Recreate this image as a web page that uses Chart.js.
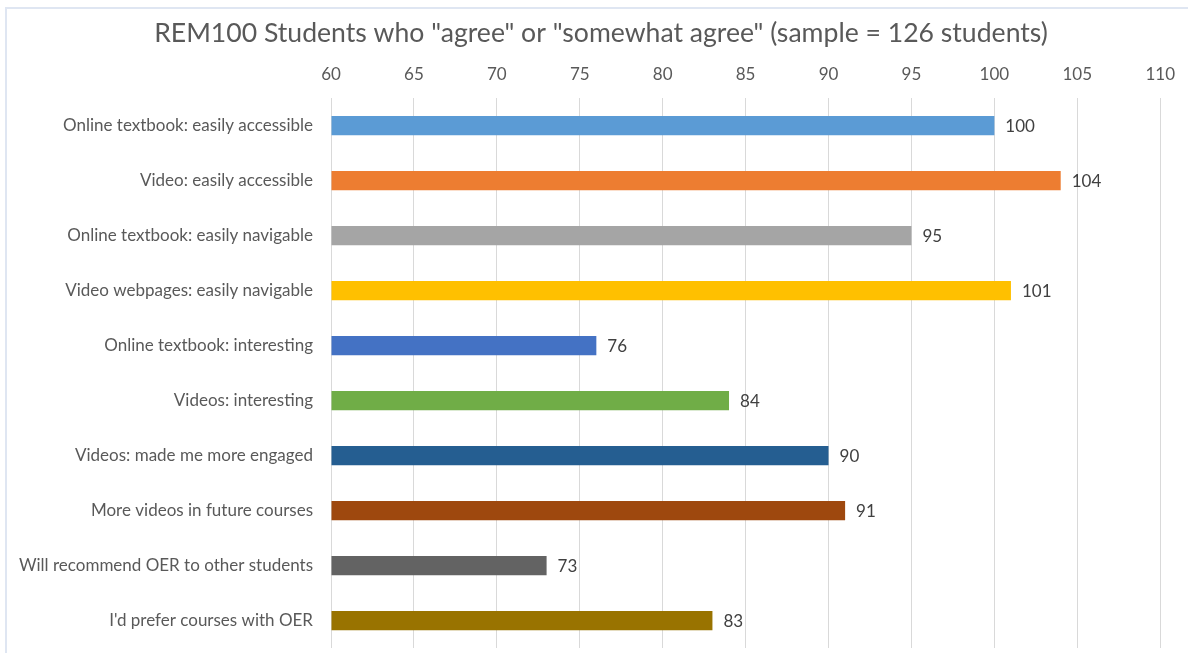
<!DOCTYPE html>
<html>
<head>
<meta charset="utf-8">
<script src="https://cdn.jsdelivr.net/npm/chart.js@4.4.1/dist/chart.umd.min.js"></script>
<style>
    html, body { margin: 0; padding: 0; background: #fff; }
    #wrap { position: relative; width: 1188px; height: 653px; overflow: hidden; }
    #frame {
        position: absolute; left: 5px; top: 7px; right: -2px; bottom: -2px;
        border-top: 2px solid #dfe6f2; border-left: 2px solid #dfe6f2;
    }
    canvas { position: absolute; left: 0; top: 0; }
</style>
</head>
<body>
<div id="wrap">
    <div id="frame"></div>
    <canvas id="chart" width="1188" height="653"></canvas>
</div>
<script>
    const chartTitle = 'REM100 Students who "agree" or "somewhat agree" (sample = 126 students)';

    const categories = [
        'Online textbook: easily accessible',
        'Video: easily accessible',
        'Online textbook: easily navigable',
        'Video webpages: easily navigable',
        'Online textbook: interesting',
        'Videos: interesting',
        'Videos: made me more engaged',
        'More videos in future courses',
        'Will recommend OER to other students',
        "I'd prefer courses with OER"
    ];
    const studentCounts = [100, 104, 95, 101, 76, 84, 90, 91, 73, 83];
    const barColors = ['#5b9bd5', '#ed7d31', '#a5a5a5', '#ffc000', '#4472c4',
                       '#70ad47', '#255e91', '#9e480e', '#636363', '#997300'];

    const axisMin = 60;
    const axisMax = 110;
    const axisStep = 5;

    const fontFamily = 'Lato, "Open Sans", sans-serif';

    // title is centred on the whole frame, not on the chart box, so it is drawn here
    const frameTitle = {
        id: 'frameTitle',
        afterDraw(chart) {
            const ctx = chart.ctx;
            ctx.save();
            ctx.font = '26.6px ' + fontFamily;
            ctx.fillStyle = '#595959';
            ctx.textAlign = 'center';
            ctx.textBaseline = 'middle';
            ctx.fillText(chartTitle, 601, 33);
            ctx.restore();
        }
    };

    // draws the value next to the end of each bar
    const valueLabels = {
        id: 'valueLabels',
        afterDatasetsDraw(chart) {
            const ctx = chart.ctx;
            const meta = chart.getDatasetMeta(0);
            ctx.save();
            ctx.font = '17px ' + fontFamily;
            ctx.fillStyle = '#404040';
            ctx.textAlign = 'left';
            ctx.textBaseline = 'middle';
            meta.data.forEach((bar, i) => {
                ctx.fillText(studentCounts[i], bar.x + 11, bar.y + 1);
            });
            ctx.restore();
        }
    };

    const ctx = document.getElementById('chart').getContext('2d');
    new Chart(ctx, {
        type: 'bar',
        data: {
            labels: categories,
            datasets: [{
                data: studentCounts,
                backgroundColor: barColors,
                base: axisMin,
                barPercentage: 0.35,
                categoryPercentage: 1
            }]
        },
        options: {
            indexAxis: 'y',
            responsive: false,
            animation: false,
            layout: { padding: { left: 0, right: 27, top: 49, bottom: 5 } },
            plugins: {
                legend: { display: false },
                tooltip: { enabled: false },
                title: { display: false }
            },
            scales: {
                x: {
                    position: 'top',
                    min: axisMin,
                    max: axisMax,
                    ticks: {
                        stepSize: axisStep,
                        color: '#595959',
                        font: { family: fontFamily, size: 17 },
                        padding: 13
                    },
                    grid: { color: '#d9d9d9', lineWidth: 1, drawTicks: false },
                    border: { display: false },
                    afterFit(axis) { axis.height = 49; }
                },
                y: {
                    ticks: {
                        color: '#595959',
                        font: { family: fontFamily, size: 17 },
                        padding: 18
                    },
                    grid: { display: false, drawTicks: false },
                    border: { display: false },
                    afterFit(axis) {
                        axis.width = 331;
                        axis.paddingTop = 0;
                        axis.paddingBottom = 0;
                    }
                }
            }
        },
        plugins: [valueLabels, frameTitle]
    });
</script>
</body>
</html>
